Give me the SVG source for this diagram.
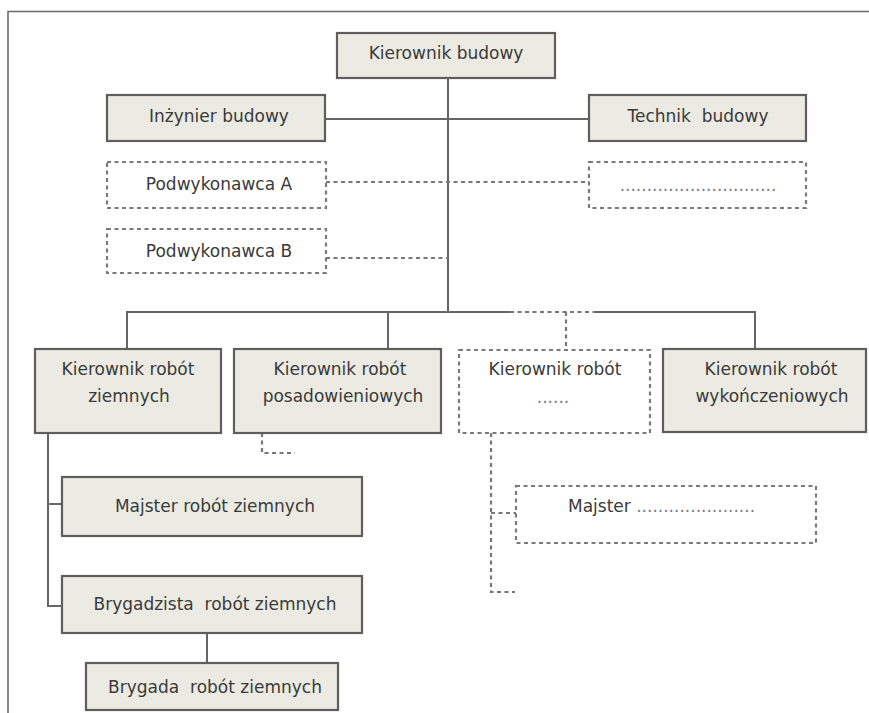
<svg xmlns="http://www.w3.org/2000/svg" width="869" height="713" viewBox="0 0 869 713">
  <style>
    .box { fill: #ebebe3; stroke: #5e5e5e; stroke-width: 2.2; }
    .dbox { fill: #ffffff; stroke: #7a7a7a; stroke-width: 2.2; stroke-dasharray: 4 3.5; }
    .ln { fill: none; stroke: #666666; stroke-width: 2; }
    .dln { fill: none; stroke: #777777; stroke-width: 2.2; stroke-dasharray: 4 3.5; }
    .frame { fill: none; stroke: #6a6a6a; stroke-width: 1.6; }
    text { font-family: "DejaVu Sans", "Liberation Sans", sans-serif; font-size: 17px; fill: #3a3a3a; text-anchor: middle; }
    .dots { fill: #7a7a8a; }
  </style>

  <!-- page frame -->
  <path class="frame" d="M8 713 V11.5 H869"/>

  <!-- connectors -->
  <g id="connectors">
    <path class="ln" d="M448 78 V312"/>
    <path class="ln" d="M325 119 H589"/>
    <path class="dln" d="M326 182 H589"/>
    <path class="dln" d="M326 258 H448"/>
    <path class="ln" d="M127 349 V312 H510"/>
    <path class="dln" d="M510 312 H595"/>
    <path class="ln" d="M595 312 H755 V349"/>
    <path class="ln" d="M388 312 V349"/>
    <path class="dln" d="M566 312 V349"/>
    <path class="ln" d="M48 433 V606 H62"/>
    <path class="ln" d="M48 504 H62"/>
    <path class="ln" d="M207 633 V663"/>
    <path class="dln" d="M262 433 V453 H295"/>
    <path class="dln" d="M491 433 V592 H515"/>
    <path class="dln" d="M491 513 H516"/>
  </g>

  <g id="kierownik-budowy">
    <rect class="box" x="337" y="33" width="218" height="45"/>
    <text x="446" y="59">Kierownik budowy</text>
  </g>

  <g id="inzynier-budowy">
    <rect class="box" x="107" y="95" width="218" height="46"/>
    <text x="219" y="122">Inżynier budowy</text>
  </g>

  <g id="technik-budowy">
    <rect class="box" x="589" y="95" width="217" height="46"/>
    <text x="698" y="122" xml:space="preserve">Technik  budowy</text>
  </g>

  <g id="podwykonawca-a">
    <rect class="dbox" x="107" y="162" width="219" height="46"/>
    <text x="219" y="190">Podwykonawca A</text>
  </g>

  <g id="podwykonawca-inny">
    <rect class="dbox" x="589" y="162" width="217" height="46"/>
    <text class="dots" x="698" y="191">.............................</text>
  </g>

  <g id="podwykonawca-b">
    <rect class="dbox" x="107" y="229" width="219" height="44"/>
    <text x="219" y="257">Podwykonawca B</text>
  </g>

  <g id="kierownik-robot-ziemnych">
    <rect class="box" x="35" y="349" width="186" height="84"/>
    <text x="128" y="375">Kierownik robót</text>
    <text x="129" y="402">ziemnych</text>
  </g>

  <g id="kierownik-robot-posadowieniowych">
    <rect class="box" x="234" y="349" width="207" height="84"/>
    <text x="340" y="375">Kierownik robót</text>
    <text x="343" y="402">posadowieniowych</text>
  </g>

  <g id="kierownik-robot-inny">
    <rect class="dbox" x="459" y="350" width="191" height="83"/>
    <text x="555" y="375">Kierownik robót</text>
    <text class="dots" x="553" y="403">......</text>
  </g>

  <g id="kierownik-robot-wykonczeniowych">
    <rect class="box" x="663" y="349" width="203" height="83"/>
    <text x="771" y="375">Kierownik robót</text>
    <text x="772" y="402">wykończeniowych</text>
  </g>

  <g id="majster-robot-ziemnych">
    <rect class="box" x="62" y="477" width="300" height="59"/>
    <text x="215" y="512">Majster robót ziemnych</text>
  </g>

  <g id="majster-inny">
    <rect class="dbox" x="516" y="486" width="300" height="57"/>
    <text x="568" y="512" style="text-anchor:start">Majster <tspan class="dots">......................</tspan></text>
  </g>

  <g id="brygadzista-robot-ziemnych">
    <rect class="box" x="62" y="576" width="300" height="57"/>
    <text x="215" y="610" xml:space="preserve">Brygadzista  robót ziemnych</text>
  </g>

  <g id="brygada-robot-ziemnych">
    <rect class="box" x="86" y="663" width="252" height="47"/>
    <text x="215" y="693" xml:space="preserve">Brygada  robót ziemnych</text>
  </g>
</svg>
